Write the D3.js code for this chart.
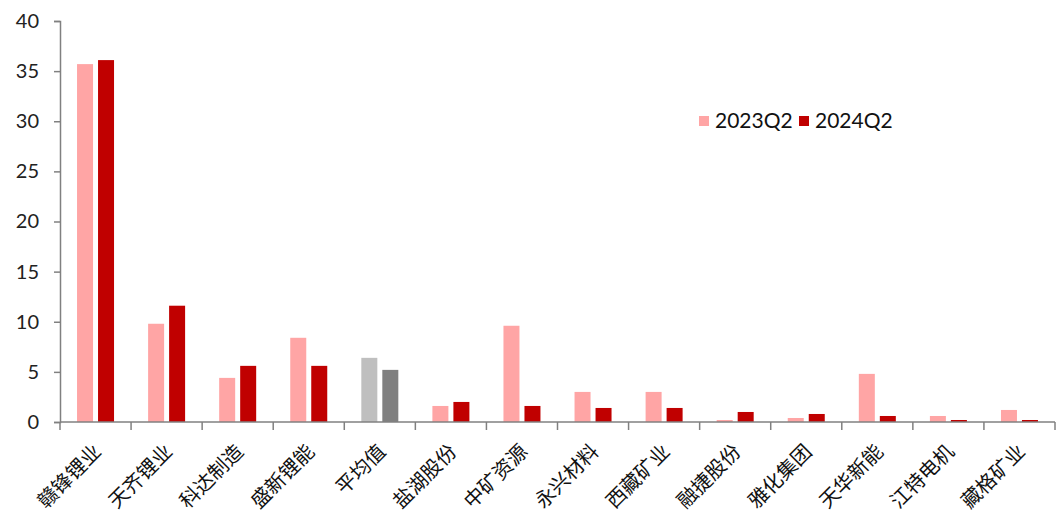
<!DOCTYPE html>
<html>
<head>
<meta charset="utf-8">
<script src="https://cdn.jsdelivr.net/npm/d3@7"></script>
<style>
	body { margin: 0; background: #fff; }
	svg { display: block; }
</style>
</head>
<body>
<div id="chart"></div>
<script>
// grouped bar chart, two quarters per company, average in gray
const WIDTH = 1056;
const HEIGHT = 515;

const categories = ['赣锋锂业', '天齐锂业', '科达制造', '盛新锂能', '平均值', '盐湖股份', '中矿资源',
	'永兴材料', '西藏矿业', '融捷股份', '雅化集团', '天华新能', '江特电机', '藏格矿业'];
const series = ['2023Q2', '2024Q2'];
const values2023 = [35.7, 9.8, 4.4, 8.4, 6.4, 1.6, 9.6, 3.0, 3.0, 0.2, 0.4, 4.8, 0.6, 1.2];
const values2024 = [36.1, 11.6, 5.6, 5.6, 5.2, 2.0, 1.6, 1.4, 1.4, 1.0, 0.8, 0.6, 0.2, 0.2];
const yTicks = [0, 5, 10, 15, 20, 25, 30, 35, 40];

const colors = ['#FFA5A5', '#C00000'];
const avgColors = ['#BFBFBF', '#808080'];

const margin = {left: 60, right: 1, top: 21, bottom: 93};
const numFont = 'Lato, "DejaVu Sans", sans-serif';
const cjkFont = '"Noto Sans CJK SC", sans-serif';

const svg = d3.select('#chart')
	.append('svg')
	.attr('width', WIDTH)
	.attr('height', HEIGHT);

const x = d3.scaleBand()
	.domain(categories)
	.range([margin.left, WIDTH - margin.right]);

const y = d3.scaleLinear()
	.domain([0, 40])
	.range([HEIGHT - margin.bottom, margin.top]);

const barW = 16;
const offsets = [-10.5, 10.5];

const rows = categories.map((c, i) => ({cat: c, vals: [values2023[i], values2024[i]]}));

const group = svg.selectAll('g.cat')
	.data(rows)
	.join('g')
	.attr('class', 'cat');

group.selectAll('rect')
	.data(d => d.vals.map((v, k) => ({cat: d.cat, v, k})))
	.join('rect')
	.attr('x', d => x(d.cat) + x.bandwidth() / 2 + offsets[d.k] - barW / 2)
	.attr('width', barW)
	.attr('y', d => y(d.v))
	.attr('height', d => y(0) - y(d.v))
	.attr('fill', d => d.cat === '平均值' ? avgColors[d.k] : colors[d.k]);

// y axis
const yAxis = svg.append('g')
	.attr('transform', `translate(${margin.left},0)`)
	.call(d3.axisLeft(y).tickValues(yTicks).tickSize(6).tickPadding(15));
yAxis.select('.domain').attr('stroke', '#808080').attr('stroke-width', 1.5);
yAxis.selectAll('.tick line').attr('stroke', '#808080').attr('stroke-width', 1.5);
yAxis.selectAll('.tick text')
	.attr('fill', '#222')
	.style('font-family', numFont)
	.style('font-size', '20px');

// x axis: ticks at band boundaries
const xAxisG = svg.append('g')
	.attr('transform', `translate(0,${y(0)})`);
xAxisG.append('line')
	.attr('x1', margin.left).attr('x2', WIDTH - margin.right)
	.attr('stroke', '#808080').attr('stroke-width', 1.5);
const bounds = categories.map(c => x(c)).concat([x(categories[categories.length - 1]) + x.bandwidth()]);
xAxisG.selectAll('line.tk')
	.data(bounds)
	.join('line')
	.attr('class', 'tk')
	.attr('x1', d => d).attr('x2', d => d)
	.attr('y1', 0).attr('y2', 8)
	.attr('stroke', '#808080').attr('stroke-width', 1.5);

xAxisG.selectAll('text')
	.data(categories)
	.join('text')
	.attr('transform', d => `translate(${x(d) + x.bandwidth() / 2 + 2},${26}) rotate(-45)`)
	.attr('text-anchor', 'end')
	.attr('dy', '0.35em')
	.attr('fill', '#111')
	.style('font-family', cjkFont)
	.style('font-size', '20px')
	.text(d => d);

// legend
const legend = svg.append('g').attr('transform', 'translate(699,116)');
const item = legend.selectAll('g')
	.data(series)
	.join('g')
	.attr('transform', (d, i) => `translate(${i * 100},0)`);
item.append('rect')
	.attr('width', 10).attr('height', 10)
	.attr('fill', (d, i) => colors[i]);
item.append('text')
	.attr('x', 16).attr('y', 12)
	.attr('fill', '#111')
	.style('font-family', numFont)
	.style('font-size', '21px')
	.text(d => d);
</script>
</body>
</html>
